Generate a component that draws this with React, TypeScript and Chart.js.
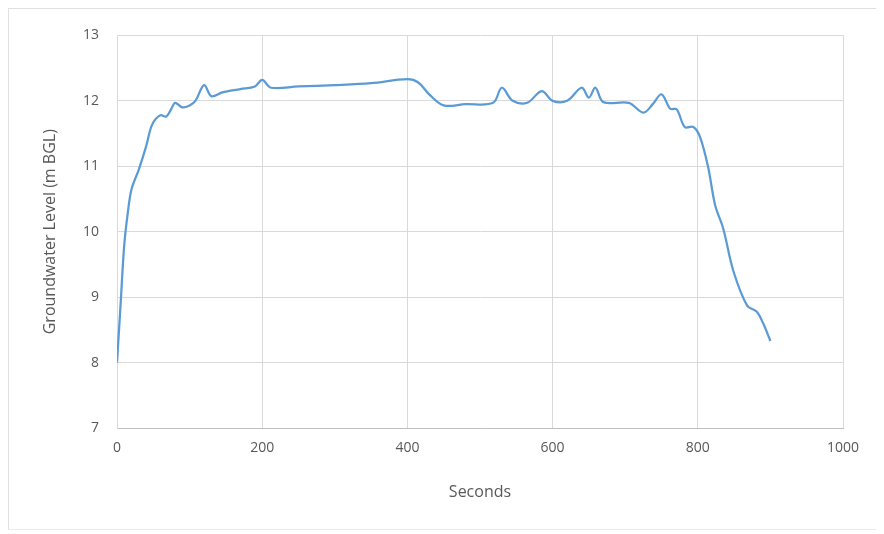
import React, { useEffect, useRef } from "react";
import { Chart, registerables } from "chart.js";

Chart.register(...registerables);

const seconds = [
  0, 5, 10, 15, 20, 30, 40, 47, 53, 60, 68, 75, 80, 90, 100, 108, 120, 130, 145, 170,
  190, 200, 212, 250, 300, 350, 400, 415, 430, 450, 480, 518, 530, 545, 565, 585, 600,
  620, 640, 650, 659, 670, 705, 725, 738, 750, 762, 771, 782, 794, 803, 814, 824, 835,
  849, 868, 881, 890, 900,
];
const levels = [
  8.0, 8.9, 9.8, 10.3, 10.65, 10.95, 11.3, 11.6, 11.72, 11.78, 11.76, 11.88, 11.97, 11.9,
  11.93, 12.0, 12.24, 12.07, 12.13, 12.18, 12.22, 12.32, 12.2, 12.22, 12.24, 12.27, 12.33,
  12.28, 12.1, 11.93, 11.95, 11.97, 12.2, 12.0, 11.97, 12.15, 12.0, 12.0, 12.2, 12.05,
  12.2, 11.98, 11.97, 11.82, 11.95, 12.1, 11.88, 11.87, 11.6, 11.6, 11.45, 11.0, 10.4,
  10.05, 9.4, 8.87, 8.78, 8.6, 8.33,
];
const xTicks = [0, 200, 400, 600, 800, 1000];
const yTicks = [7, 8, 9, 10, 11, 12, 13];

export default function App() {
  const ref = useRef<HTMLCanvasElement | null>(null);
  useEffect(() => {
    document.body.style.overflow = "hidden";
    if (!ref.current) return;
    const font = "'Open Sans', 'Liberation Sans', sans-serif";
    const chart = new Chart(ref.current, {
      type: "line",
      data: {
        datasets: [
          {
            data: seconds.map((s, i) => ({ x: s, y: levels[i] })),
            borderColor: "#5b9bd5",
            borderWidth: 2.25,
            pointRadius: 0,
            tension: 0.35,
            fill: false,
          },
        ],
      },
      options: {
        animation: false,
        responsive: false,
        maintainAspectRatio: false,
        layout: { padding: { left: 28, top: 23, right: 41, bottom: 23 } },
        plugins: { legend: { display: false }, tooltip: { enabled: false } },
        scales: {
          x: {
            type: "linear",
            min: 0,
            max: 1000,
            afterBuildTicks: (s: any) => {
              s.ticks = xTicks.map((v) => ({ value: v }));
            },
            afterFit: (s: any) => {
              s.height = 78;
            },
            grid: { color: "#d9d9d9", drawTicks: false },
            border: { color: "#bfbfbf" },
            ticks: {
              color: "#595959",
              font: { family: font, size: 14 },
              padding: 12,
              callback: (v: any) => String(v),
            },
            title: {
              display: true,
              text: "Seconds",
              color: "#595959",
              font: { family: font, size: 16 },
              padding: 4,
            },
          },
          y: {
            type: "linear",
            min: 7,
            max: 13,
            afterBuildTicks: (s: any) => {
              s.ticks = yTicks.map((v) => ({ value: v }));
            },
            afterFit: (s: any) => {
              s.width = 80;
            },
            grid: { color: "#d9d9d9", drawTicks: false },
            border: { color: "#d9d9d9" },
            ticks: {
              color: "#595959",
              font: { family: font, size: 14 },
              padding: 18,
              callback: (v: any) => String(v),
            },
            title: {
              display: true,
              text: "Groundwater Level (m BGL)",
              color: "#595959",
              font: { family: font, size: 16 },
              padding: 4,
            },
          },
        },
      },
    });
    return () => chart.destroy();
  }, []);
  return (
    <div
      style={{
        width: 900,
        height: 520,
        borderLeft: "1px solid #e0e0e0",
        borderTop: "1px solid #e0e0e0",
        borderBottom: "1px solid #ececec",
        background: "#fff",
      }}
    >
      <canvas ref={ref} width={875} height={520} style={{ display: "block" }} />
    </div>
  );
}
